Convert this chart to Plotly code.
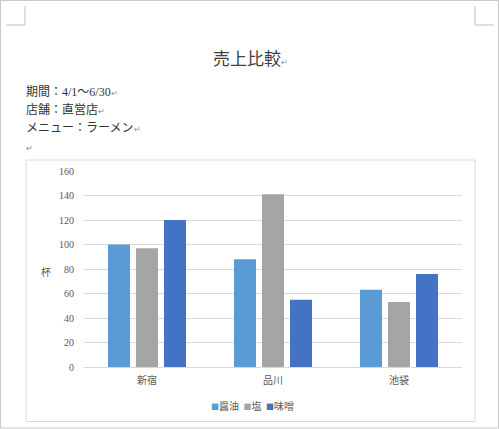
import plotly.graph_objects as go

title_text = "売上比較"
info_lines = ["期間：4/1～6/30", "店舗：直営店", "メニュー：ラーメン", ""]
categories = ["新宿", "品川", "池袋"]
series_names = ["醤油", "塩", "味噌"]
shoyu = [100, 88, 63]
shio = [97, 141, 53]
miso = [120, 55, 76]
y_ticks = [0, 20, 40, 60, 80, 100, 120, 140, 160]
y_label = "杯"

colors = ["#5B9BD5", "#A5A5A5", "#4472C4"]
W, H = 500, 429
SERIF = "Liberation Serif, Noto Sans CJK JP, serif"
SANS = "Noto Sans CJK JP, sans-serif"
RET = "<span style='font-size:8px;fill:#8a8a8a'>↵</span>"

def px(x):
    return x / W

def py(y):
    return 1 - y / H

fig = go.Figure()
for name, vals, c in zip(series_names, [shoyu, shio, miso], colors):
    fig.add_trace(go.Bar(x=categories, y=vals, name=name, showlegend=False,
                         marker=dict(color=c, line=dict(width=0))))

fig.update_layout(
    width=W, height=H, autosize=False,
    margin=dict(l=0, r=0, t=0, b=0, pad=0, autoexpand=False),
    paper_bgcolor="white", plot_bgcolor="white",
    barmode="group", bargap=0.333, bargroupgap=0.214,
    xaxis=dict(domain=[px(84), px(462)], range=[-0.5, 2.5], showgrid=False, showline=False,
               zeroline=False, ticks="", automargin=False,
               tickfont=dict(family=SERIF, size=10, color="#595959"),
               ticklabelstandoff=6),
    yaxis=dict(domain=[py(367), py(171)], range=[0, 160], tickvals=y_ticks,
               showgrid=True, gridcolor="#D9D9D9", gridwidth=1, zeroline=True,
               zerolinecolor="#D9D9D9", zerolinewidth=1, showline=False,
               ticks="", ticklabelstandoff=9, automargin=False,
               tickfont=dict(family=SERIF, size=10, color="#595959")),
    font=dict(family=SERIF),
)

legend_text = "&nbsp;&nbsp;".join(
    f"<span style='fill:{c};font-size:8px'>■</span>{n}" for n, c in zip(series_names, colors)
)

annotations = [
    dict(text=title_text + RET, x=0.5, y=py(58), xref="paper", yref="paper", showarrow=False,
         xanchor="center", yanchor="middle", font=dict(family=SANS, size=17, color="#404040")),
    dict(text=y_label, x=px(46), y=py(271), xref="paper", yref="paper", showarrow=False,
         xanchor="center", yanchor="middle", font=dict(family=SANS, size=10, color="#595959")),
    dict(text=legend_text, x=px(252), y=py(405), xref="paper", yref="paper", showarrow=False,
         xanchor="center", yanchor="middle", font=dict(family=SANS, size=10, color="#595959")),
]
line_y = [92, 110, 128, 148]
for t, yy in zip(info_lines, line_y):
    annotations.append(dict(text=t + RET, x=px(24), y=py(yy), xref="paper", yref="paper",
                            showarrow=False, xanchor="left", yanchor="middle",
                            font=dict(family=SERIF, size=12, color="#333333")))
fig.update_layout(annotations=annotations)

shapes = [
    dict(type="rect", xref="paper", yref="paper", x0=px(0.5), x1=px(498.5), y0=py(428), y1=py(0.5),
         line=dict(color="#C8C8C8", width=1), fillcolor="rgba(0,0,0,0)"),
    dict(type="rect", xref="paper", yref="paper", x0=px(26), x1=px(475), y0=py(421.5), y1=py(160),
         line=dict(color="#D9D9D9", width=1), fillcolor="rgba(0,0,0,0)"),
    dict(type="line", xref="paper", yref="paper", x0=px(25), x1=px(25), y0=py(6), y1=py(25),
         line=dict(color="#BFBFBF", width=1)),
    dict(type="line", xref="paper", yref="paper", x0=px(6), x1=px(25), y0=py(25), y1=py(25),
         line=dict(color="#BFBFBF", width=1)),
    dict(type="line", xref="paper", yref="paper", x0=px(475), x1=px(475), y0=py(6), y1=py(25),
         line=dict(color="#BFBFBF", width=1)),
    dict(type="line", xref="paper", yref="paper", x0=px(475), x1=px(494), y0=py(25), y1=py(25),
         line=dict(color="#BFBFBF", width=1)),
]
fig.update_layout(shapes=shapes)

post = (
    "document.documentElement.style.margin='0';document.documentElement.style.padding='0';"
    "document.documentElement.style.overflow='hidden';"
    "document.body.style.margin='0';document.body.style.padding='0';document.body.style.overflow='hidden';"
)
fig.write_html("out.html", config={"displayModeBar": False}, post_script=post)
